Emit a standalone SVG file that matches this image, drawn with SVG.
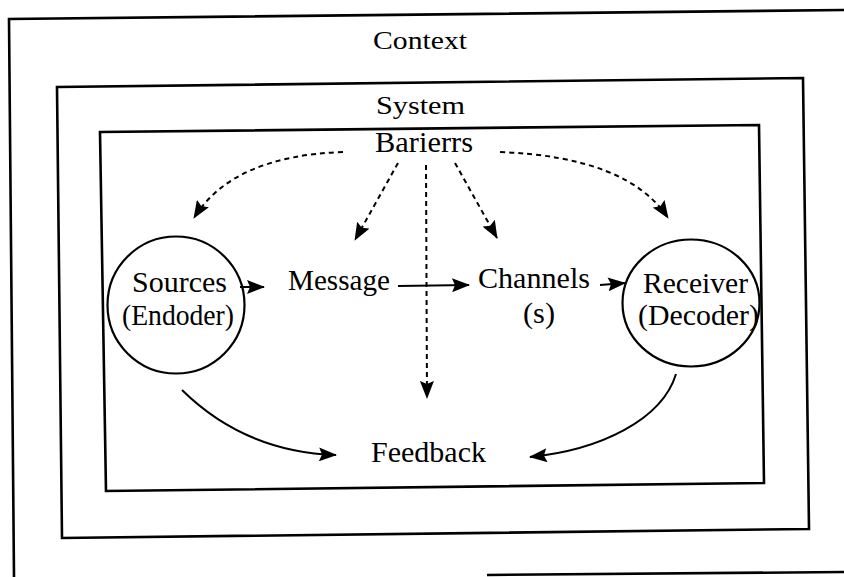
<svg xmlns="http://www.w3.org/2000/svg" width="844" height="577" viewBox="0 0 844 577">
  <style>
    .frame { fill: none; stroke: #000; stroke-width: 2.6; stroke-linejoin: miter; }
    .node { fill: none; stroke: #000; stroke-width: 2.2; }
    .lbl { font-family: "Liberation Serif", "Times New Roman", serif; font-size: 29px; fill: #000; }
    .lbl-top { font-size: 26px; }
    .flow { fill: none; stroke: #000; stroke-width: 2; marker-end: url(#head); }
    .barrier { fill: none; stroke: #000; stroke-width: 2; stroke-dasharray: 5 4; marker-end: url(#head); }
  </style>
  <defs>
    <marker id="head" markerUnits="userSpaceOnUse" markerWidth="18" markerHeight="14" refX="17" refY="7" orient="auto">
      <path d="M0,0 L18,7 L0,14 L3,7 Z" fill="#000"/>
    </marker>
  </defs>
  <rect width="844" height="577" fill="#fff"/>

  <!-- nested environment frames -->
  <g id="context">
    <polyline class="frame" points="844,10 9,19 14,577"/>
    <line class="frame" x1="487" y1="575" x2="844" y2="572"/>
    <text class="lbl lbl-top" x="373" y="49" textLength="94" lengthAdjust="spacingAndGlyphs">Context</text>
  </g>
  <g id="system">
    <polygon class="frame" points="57,87 803,78 809,529 62,538"/>
    <text class="lbl lbl-top" x="376" y="114" textLength="89" lengthAdjust="spacingAndGlyphs">System</text>
  </g>
  <g id="inner">
    <polygon class="frame" points="100,132 759,125 764,483 106,491"/>
  </g>

  <!-- nodes -->
  <g id="barriers">
    <text class="lbl" x="375" y="152" font-size="28" textLength="98" lengthAdjust="spacingAndGlyphs">Barierrs</text>
  </g>
  <g id="sources">
    <circle class="node" cx="176" cy="305" r="68.5"/>
    <text class="lbl" x="132" y="292" textLength="95" lengthAdjust="spacingAndGlyphs">Sources</text>
    <text class="lbl" x="122" y="325" textLength="112" lengthAdjust="spacingAndGlyphs">(Endoder)</text>
  </g>
  <g id="message">
    <text class="lbl" x="288" y="290" textLength="102" lengthAdjust="spacingAndGlyphs">Message</text>
  </g>
  <g id="channels">
    <text class="lbl" x="478" y="288" textLength="112" lengthAdjust="spacingAndGlyphs">Channels</text>
    <text class="lbl" x="523" y="323" textLength="32" lengthAdjust="spacingAndGlyphs">(s)</text>
  </g>
  <g id="receiver">
    <ellipse class="node" cx="691" cy="303" rx="68.5" ry="63.5"/>
    <text class="lbl" x="643" y="293" textLength="105" lengthAdjust="spacingAndGlyphs">Receiver</text>
    <text class="lbl" x="638" y="325" textLength="121" lengthAdjust="spacingAndGlyphs">(Decoder)</text>
  </g>
  <g id="feedback">
    <text class="lbl" x="371" y="462" textLength="115" lengthAdjust="spacingAndGlyphs">Feedback</text>
  </g>

  <!-- connectors -->
  <g id="connectors">
    <path class="barrier" d="M343,152 Q232,156 194,218"/>
    <path class="barrier" d="M500,152 Q628,157 668,218"/>
    <path class="barrier" d="M398,163 L355,240"/>
    <path class="barrier" d="M455,163 L497,238"/>
    <path class="barrier" d="M426,165 L427,398"/>
    <path class="flow" d="M240,287 L264,287"/>
    <path class="flow" d="M398,286 L469,285"/>
    <path class="flow" d="M600,285 L625,283"/>
    <path class="flow" d="M182,390 Q245,452 336,455"/>
    <path class="flow" d="M676,374 C662,420 600,450 530,457"/>
  </g>
</svg>
